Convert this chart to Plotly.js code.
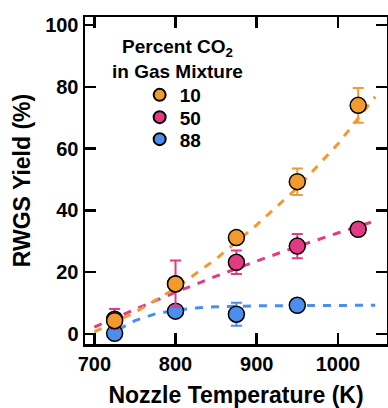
<!DOCTYPE html>
<html>
<head>
<meta charset="utf-8">
<script src="https://cdn.plot.ly/plotly-3.0.1.min.js"></script>
<style>html,body{margin:0;padding:0;background:#fff;}#chart{width:388px;height:408px;}</style>
</head>
<body>
<div id="chart"></div>
<script>
// ---- data ----
const temps = [725, 800, 875, 950, 1025];

const yield88 = [0.2, 7.4, 6.4, 9.3];
const err88   = [0, 0, 3.75, 0];

const yield50 = [4.8, 16.3, 23.2, 28.45, 33.9];
const err50   = [3.25, 7.45, 3.8, 3.95, 0];

const yield10 = [4.3, 16.2, 31.2, 49.3, 74.0];
const err10   = [0, 0, 0, 4.3, 5.6];

// dashed fit curves
const fit10x = [700, 750, 800, 850, 900, 950, 1000, 1046];
const fit10y = [0.7, 7.0, 14.8, 24.3, 35.3, 47.3, 61.5, 76.8];
const fit50x = [700, 750, 800, 850, 900, 950, 1000, 1046];
const fit50y = [2.2, 8.0, 13.5, 18.7, 23.6, 28.3, 32.7, 36.6];
const fit88x = [730, 750, 775, 800, 825, 850, 900, 950, 1000, 1046];
const fit88y = [1.5, 4.3, 6.5, 7.7, 8.4, 8.8, 9.1, 9.2, 9.3, 9.3];

const xTicks = [700, 800, 900, 1000];
const yTicks = [0, 20, 40, 60, 80, 100];

const legendTitle = "Percent CO<sub>2</sub><br>in Gas Mixture";
const colors = {"10": "#F29A2E", "50": "#E23B84", "88": "#4A8FEE"};
const FONT = "Liberation Sans, Arial, Helvetica, sans-serif";

function fit(x, y, c) {
  return {x: x, y: y, type: "scatter", mode: "lines", showlegend: false, hoverinfo: "skip",
          line: {color: c, width: 3, dash: "8px,8px"}};
}
function pts(name, y, e, leg) {
  return {x: temps.slice(0, y.length), y: y, name: name, type: "scatter", mode: "markers",
          legend: leg, showlegend: true,
          marker: {size: 16, color: colors[name], line: {color: "#000", width: 1.5}},
          error_y: {type: "data", array: e, visible: true, color: colors[name], thickness: 2, width: 5.5}};
}

const traces = [
  fit(fit88x, fit88y, colors["88"]),
  fit(fit50x, fit50y, colors["50"]),
  fit(fit10x, fit10y, colors["10"]),
  pts("88", yield88, err88, "legend3"),
  pts("50", yield50, err50, "legend2"),
  pts("10", yield10, err10, "legend")
];

const axisCommon = {
  showline: true, linecolor: "#000", linewidth: 2.5, mirror: "allticks",
  ticks: "inside", ticklen: 11, tickwidth: 2.5, tickcolor: "#000",
  showgrid: false, zeroline: false,
  tickfont: {family: FONT, size: 20, color: "#000", weight: "bold"}
};

function leg(y) {
  return {
    x: 0.181, xanchor: "left", y: y, yanchor: "middle",
    itemsizing: "constant", bgcolor: "rgba(0,0,0,0)", borderwidth: 0,
    font: {family: FONT, size: 19, color: "#000", weight: "bold"}
  };
}

const layout = {
  width: 388, height: 408,
  margin: {l: 85, r: 1, t: 17, b: 64},
  paper_bgcolor: "#fff", plot_bgcolor: "#fff",
  xaxis: Object.assign({}, axisCommon, {
    range: [688.5, 1060.5], tickvals: xTicks, ticktext: xTicks.map(String),
    title: {text: "Nozzle Temperature (K)", font: {family: FONT, size: 23, color: "#000", weight: "bold"}, standoff: 21}
  }),
  yaxis: Object.assign({}, axisCommon, {
    range: [-3.24, 102.6], tickvals: yTicks, ticktext: yTicks.map(String),
    title: {text: "RWGS Yield (%)", font: {family: FONT, size: 23, color: "#000", weight: "bold"}, standoff: 8}
  }),
  showlegend: true,
  legend: leg(0.7615),
  legend2: leg(0.6933),
  legend3: leg(0.626),
  annotations: [{
    text: legendTitle, xref: "paper", yref: "paper", x: 0.306, y: 0.871,
    xanchor: "center", yanchor: "middle", align: "center", showarrow: false,
    font: {family: FONT, size: 19, color: "#000", weight: "bold"}
  }]
};

Plotly.newPlot("chart", traces, layout, {displayModeBar: false, staticPlot: true});
</script>
</body>
</html>
